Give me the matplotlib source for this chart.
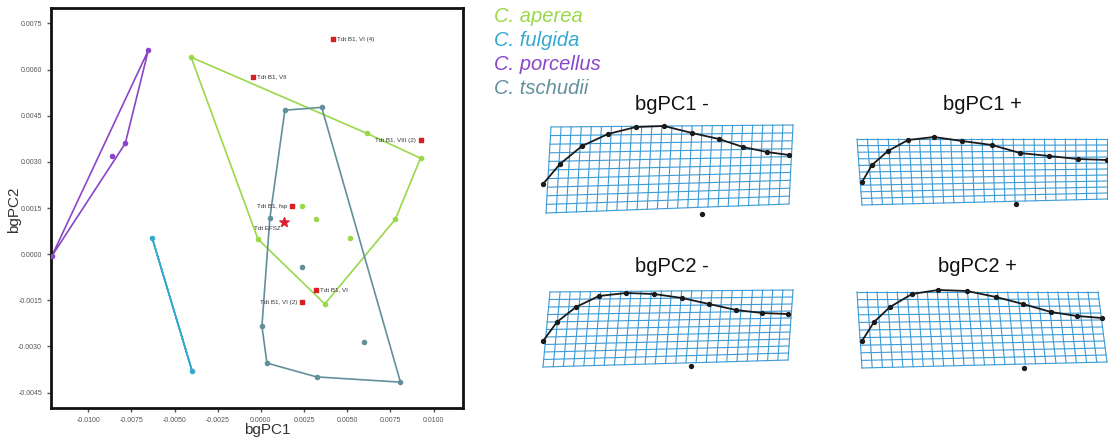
import numpy as np
import matplotlib
matplotlib.use('Agg')
import matplotlib.pyplot as plt

plt.rcParams['font.family'] = ['Liberation Sans', 'DejaVu Sans']

# between-group PCA scores (bgPC1, bgPC2) per species
aperea_x = [-0.00404, 0.00612, 0.00924, 0.00779, 0.00370, -0.00017, 0.00318, 0.00514, 0.00237]
aperea_y = [0.00640, 0.00393, 0.00312, 0.00114, -0.00162, 0.00049, 0.00114, 0.00052, 0.00156]
fulgida_x = [-0.00629, -0.00398]
fulgida_y = [0.00052, -0.00380]
porcellus_x = [-0.00652, -0.00785, -0.00860, -0.01210]
porcellus_y = [0.00662, 0.00360, 0.00318, -0.00006]
tschudii_x = [0.00139, 0.00352, 0.00808, 0.00323, 0.00035, 0.00006, 0.00052, 0.00237, 0.00595]
tschudii_y = [0.00468, 0.00477, -0.00416, -0.00399, -0.00354, -0.00234, 0.00117, -0.00042, -0.00286]

species = ['C. aperea', 'C. fulgida', 'C. porcellus', 'C. tschudii']
species_colors = ['#9ad84a', '#35a9cf', '#8a45c8', '#62909a']

# fossil specimens
fossil_names = ['Tdt B1, VI (4)', 'Tdt B1, VII', 'Tdt B1, VIII (2)', 'Tdt B1, fsp',
                'Tdt B1, VI', 'Tdt B1, VI (2)']
fossil_x = [0.00416, -0.00046, 0.00924, 0.00179, 0.00318, 0.00237]
fossil_y = [0.00698, 0.00575, 0.00370, 0.00156, -0.00117, -0.00156]
fossil_side = ['right', 'right', 'left', 'left', 'right', 'left']
star_name = 'Tdt EFSZ'
star_x, star_y = 0.00133, 0.00104

# deformation grids (landmarks read in figure pixels)
panel_titles = ['bgPC1 -', 'bgPC1 +', 'bgPC2 -', 'bgPC2 +']
panel_title_y = [105, 105, 266, 266]
panel_corners = [  # top-left, top-right, bottom-left, bottom-right
    [(551, 127), (793, 125), (546, 213), (789, 204)],
    [(857, 139), (1107, 139), (862, 205), (1107, 199)],
    [(550, 292), (793, 290), (543, 367), (788, 360)],
    [(857, 292), (1098, 292), (862, 368), (1107, 362)],
]
panel_curve_x = [
    [543, 560, 582, 608, 636, 664, 692, 719, 743, 767, 789],
    [862, 872, 888, 908, 934, 962, 992, 1020, 1049, 1078, 1107],
    [543, 557, 576, 599, 626, 654, 682, 709, 736, 762, 788],
    [862, 874, 890, 912, 938, 967, 996, 1023, 1051, 1077, 1102],
]
panel_curve_y = [
    [184, 164, 146, 134, 127, 126, 133, 139, 147, 152, 155],
    [182, 165, 151, 140, 137, 141, 145, 153, 156, 159, 160],
    [341, 322, 307, 296, 293, 294, 298, 304, 310, 313, 314],
    [341, 322, 307, 294, 290, 291, 297, 304, 312, 316, 318],
]
panel_lone = [(702, 214), (1016, 204), (691, 366), (1024, 368)]


def convex_hull(xs, ys):
    pts = sorted(set(zip(xs, ys)))
    if len(pts) < 3:
        return pts

    def cross(o, a, b):
        return (a[0] - o[0]) * (b[1] - o[1]) - (a[1] - o[1]) * (b[0] - o[0])
    lower, upper = [], []
    for p in pts:
        while len(lower) >= 2 and cross(lower[-2], lower[-1], p) <= 0:
            lower.pop()
        lower.append(p)
    for p in reversed(pts):
        while len(upper) >= 2 and cross(upper[-2], upper[-1], p) <= 0:
            upper.pop()
        upper.append(p)
    return lower[:-1] + upper[:-1]


fig = plt.figure(figsize=(11.08, 4.41), dpi=100)
ax = fig.add_axes([51 / 1108, 1 - 408 / 441, 412 / 1108, 400 / 441])

groups = [(aperea_x, aperea_y), (fulgida_x, fulgida_y),
          (porcellus_x, porcellus_y), (tschudii_x, tschudii_y)]
for (gx, gy), col in zip(groups, species_colors):
    hull = convex_hull(gx, gy)
    hx = [p[0] for p in hull] + [hull[0][0]]
    hy = [p[1] for p in hull] + [hull[0][1]]
    ax.plot(hx, hy, color=col, lw=1.2, zorder=2)
    ax.scatter(gx, gy, s=9, color=col, zorder=3)

ax.scatter(fossil_x, fossil_y, s=9, marker='s', color='#d42020', zorder=4)
for name, fx, fy, side in zip(fossil_names, fossil_x, fossil_y, fossil_side):
    off = 0.00025 if side == 'right' else -0.00025
    ax.text(fx + off, fy, name, fontsize=4.5, color='#333333',
            ha='left' if side == 'right' else 'right', va='center', zorder=5)
ax.scatter([star_x], [star_y], s=50, marker='*', color='#e02030', zorder=4)
ax.text(star_x - 0.0002, star_y - 0.0002, star_name, fontsize=4.5, color='#333333',
        ha='right', va='center', zorder=5)

ax.set_xlim(-0.01215, 0.0117)
ax.set_ylim(-0.0050, 0.0080)
ax.set_xticks(np.arange(-0.01, 0.0101, 0.0025))
ax.set_yticks(np.arange(-0.0045, 0.0076, 0.0015))
ax.set_xticklabels(['%.4f' % t for t in ax.get_xticks()])
ax.set_yticklabels(['%.4f' % t for t in ax.get_yticks()])
ax.tick_params(labelsize=5, colors='#555555', length=3, width=1)
for s in ax.spines.values():
    s.set_linewidth(2)
    s.set_color('#111111')
fig.text(267 / 1108, 1 - 430 / 441, 'bgPC1', fontsize=11, ha='center', va='center', color='#333333')
fig.text(14 / 1108, 1 - 210 / 441, 'bgPC2', fontsize=11, ha='center', va='center',
         rotation=90, color='#333333')

# species legend
for i, (name, col) in enumerate(zip(species, species_colors)):
    fig.text(494 / 1108, 1 - (17 + 24 * i) / 441, name, fontsize=14.5, style='italic',
             color=col, ha='left', va='center')

# deformation grid panels
gax = fig.add_axes([0, 0, 1, 1])
gax.set_xlim(0, 1108)
gax.set_ylim(441, 0)
gax.axis('off')
ncol, nrow = 24, 10
t = np.linspace(0, 1, 40)
for title, ty, corners, cx, cy, lone in zip(panel_titles, panel_title_y, panel_corners,
                                             panel_curve_x, panel_curve_y, panel_lone):
    tl, tr, bl, br = [np.array(c, dtype=float) for c in corners]

    def warp(u, v):
        top = tl + (tr - tl) * u[:, None]
        bot = bl + (br - bl) * u[:, None]
        return top + (bot - top) * v[:, None]
    for u in np.linspace(0, 1, ncol + 1):
        p = warp(np.full_like(t, u), t)
        gax.plot(p[:, 0], p[:, 1], color='#3c9ad6', lw=0.8)
    for v in np.linspace(0, 1, nrow + 1):
        p = warp(t, np.full_like(t, v))
        gax.plot(p[:, 0], p[:, 1], color='#3c9ad6', lw=0.8)
    gax.plot(cx, cy, color='#1a1a1a', lw=1.3, marker='o', ms=2.8)
    gax.plot([lone[0]], [lone[1]], 'o', color='#1a1a1a', ms=2.8)
    mid = (tl[0] + tr[0]) / 2
    gax.text(mid, ty, title, fontsize=14.5, ha='center', va='center', color='#111111')

fig.savefig('out.png', dpi=100)
